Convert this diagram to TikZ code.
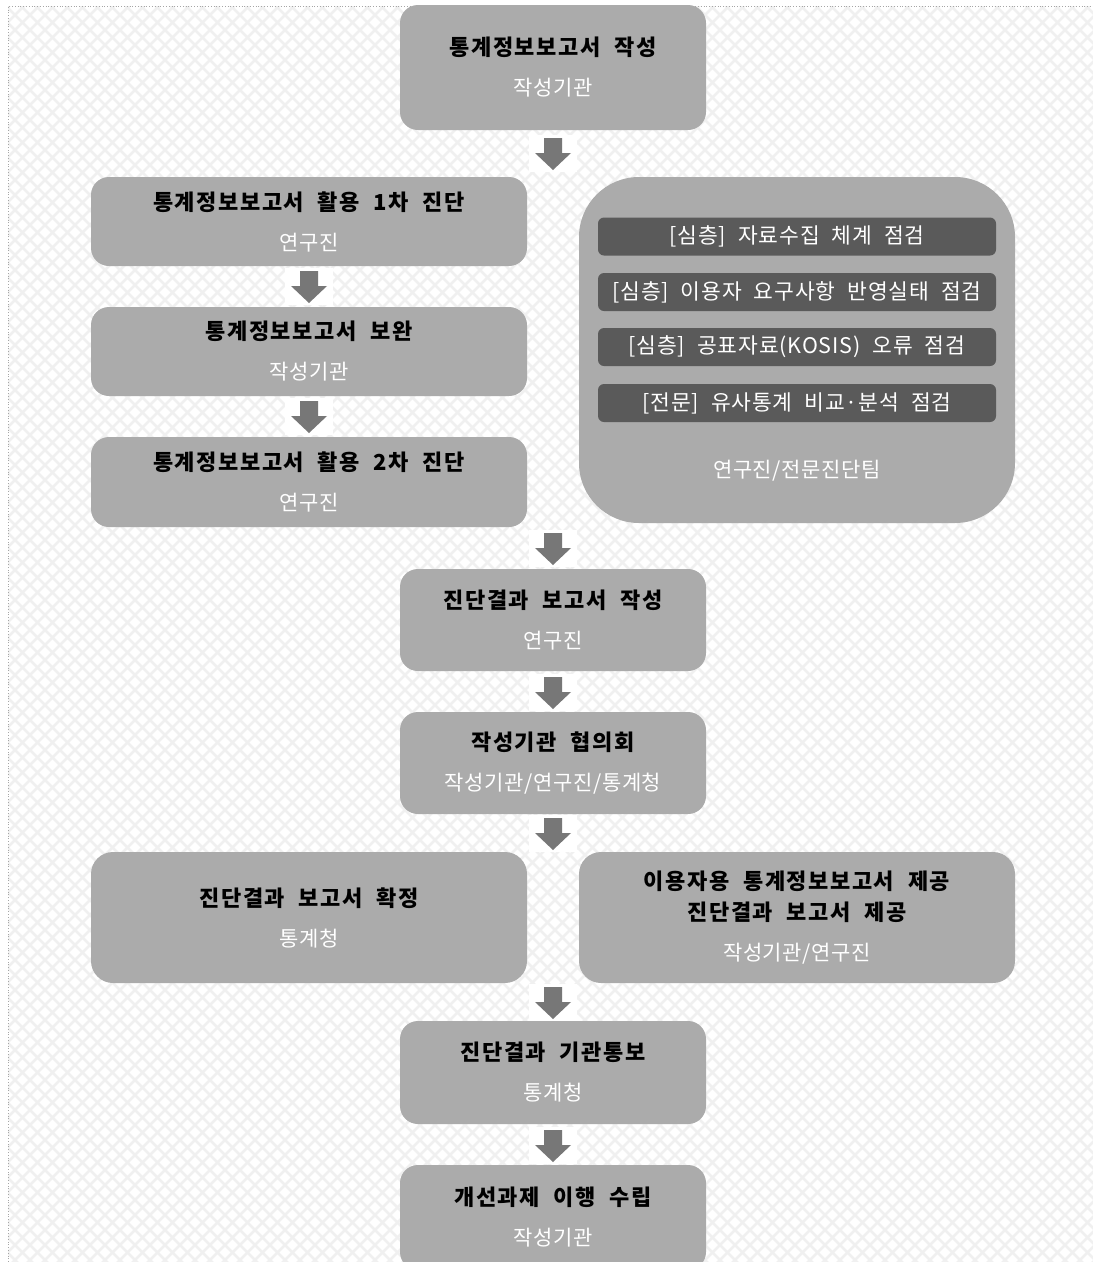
\documentclass[tikz,border=0pt]{standalone}
\usepackage{fontspec}
\setmainfont{Noto Sans CJK KR}[WordSpace=2.1]
\definecolor{boxgray}{HTML}{ABABAB}
\definecolor{bardark}{HTML}{5A5A5A}
\definecolor{arrowgray}{HTML}{777777}
\definecolor{patgray}{HTML}{F0F0F0}
\tikzset{
  stepbox/.style={fill=boxgray, rounded corners=18pt, inner sep=0pt, align=center,
    font=\fontsize{21}{40}\selectfont},
  widebox/.style={stepbox, minimum width=436pt},
  midbox/.style={stepbox, minimum width=306pt},
  barbox/.style={fill=bardark, rounded corners=6pt, inner sep=0pt, minimum width=398pt,
    minimum height=38pt, text=white, font=\fontsize{21.5}{24}\selectfont\addfontfeatures{LetterSpace=4}},
  patline/.style={draw=patgray, line width=2.6pt},
}
\newcommand{\ttl}[1]{{\fontsize{22}{40}\selectfont\bfseries\addfontfeatures{LetterSpace=7}#1}}
\newcommand{\sbt}[1]{{\addfontfeatures{LetterSpace=3}\color{white}#1}}
\newcommand{\blockarrow}[1]{%
  \fill[white] ($(#1)+(-24,-18)$) rectangle ($(#1)+(24,19)$);
  \fill[arrowgray] ($(#1)+(-9,-15)$) -- ($(#1)+(9,-15)$) -- ($(#1)+(9,0)$) -- ($(#1)+(18,0)$)
    -- ($(#1)+(0,17)$) -- ($(#1)+(-18,0)$) -- ($(#1)+(-9,0)$) -- cycle;}
\usetikzlibrary{calc}
\begin{document}
\begin{tikzpicture}[x=1pt,y=-1pt]
\useasboundingbox (0,0) rectangle (1093,1262);
\clip (0,0) rectangle (1093,1262);
% background pattern
\begin{scope}
  \clip (8,6) rectangle (1093,1262);
  \foreach \c in {-1305,-1290,...,1095} {
    \draw[patline] (\c,0) -- ++(1300,1300);
  }
  \foreach \c in {0,15,...,2400} {
    \draw[patline] (\c,0) -- ++(-1300,1300);
  }
\end{scope}
\draw[gray!70, dotted, line width=0.8pt] (8,1262) -- (8,6) -- (1093,6);

% boxes
\node[midbox, minimum height=125pt] (b1) at (553,67.5) {\ttl{통계정보보고서 작성}\\\sbt{작성기관}};
\node[widebox, minimum height=89pt] (b2) at (309,221.5) {\ttl{통계정보보고서 활용 1차 진단}\\\sbt{연구진}};
\node[widebox, minimum height=89pt] (b3) at (309,351.5) {\ttl{통계정보보고서 보완}\\\sbt{작성기관}};
\node[widebox, minimum height=90pt] (b4) at (309,482) {\ttl{통계정보보고서 활용 2차 진단}\\\sbt{연구진}};

\node[widebox, rounded corners=60pt, minimum height=346pt] (rb) at (797,350) {};
\node[barbox] (bar1) at (797,236.5) {[심층] 자료수집 체계 점검};
\node[barbox] (bar2) at (797,292) {[심층] 이용자 요구사항 반영실태 점검};
\node[barbox] (bar3) at (797,347) {[심층] 공표자료(KOSIS) 오류 점검};
\node[barbox] (bar4) at (797,403) {[전문] 유사통계 비교·분석 점검};
\node[font=\fontsize{21}{24}\selectfont, inner sep=0pt] (rbl) at (797,471) {\sbt{연구진/전문진단팀}};

\node[midbox, minimum height=102pt] (b5) at (553,620) {\ttl{진단결과 보고서 작성}\\\sbt{연구진}};
\node[midbox, minimum height=102pt] (b6) at (553,763) {\ttl{작성기관 협의회}\\\sbt{작성기관/연구진/통계청}};
\node[widebox, rounded corners=22pt, minimum height=131pt] (b7) at (309,917.5) {\ttl{진단결과 보고서 확정}\\\sbt{통계청}};
\node[widebox, rounded corners=22pt, minimum height=131pt] (b8) at (797,917.5) {\ttl{이용자용 통계정보보고서 제공}\\[-9pt]\ttl{진단결과 보고서 제공}\\\sbt{작성기관/연구진}};
\node[midbox, minimum height=103pt] (b9) at (553,1072.5) {\ttl{진단결과 기관통보}\\\sbt{통계청}};
\node[midbox, minimum height=105pt] (b10) at (553,1217.5) {\ttl{개선과제 이행 수립}\\\sbt{작성기관}};

% block arrows between the steps
\blockarrow{553,153}
\blockarrow{309,286}
\blockarrow{309,416}
\blockarrow{553,548}
\blockarrow{553,692}
\blockarrow{553,833}
\blockarrow{553,1002}
\blockarrow{553,1145}
\end{tikzpicture}
\end{document}
